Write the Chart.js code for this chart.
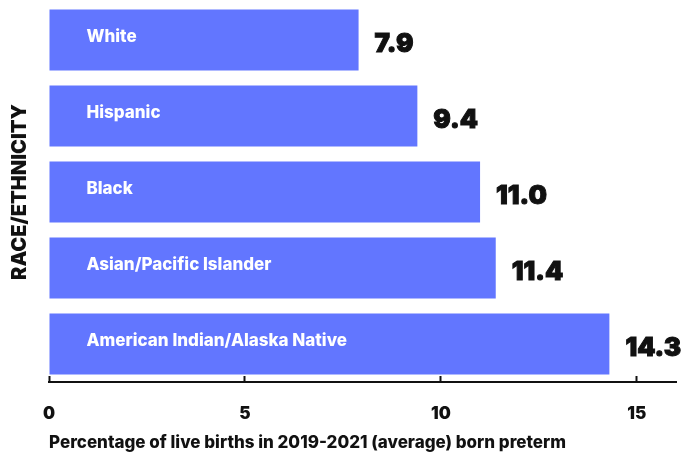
<!DOCTYPE html>
<html>
<head>
<meta charset="utf-8">
<script src="https://cdn.jsdelivr.net/npm/chart.js@4"></script>
<style>
  html, body { margin: 0; padding: 0; background: #fff; }
  #wrap { width: 681px; height: 453px; }
</style>
</head>
<body>
<div id="wrap"><canvas id="chart"></canvas></div>
<script>
// Data
const categories = ['White', 'Hispanic', 'Black', 'Asian/Pacific Islander', 'American Indian/Alaska Native'];
const values = [7.9, 9.4, 11.0, 11.4, 14.3];
const xTicks = [0, 5, 10, 15];

const barColor = '#6276FF';

// Draw the category name inside each bar and the value after it
const barLabels = {
    id: 'barLabels',
    afterDatasetsDraw(chart) {
        const ctx = chart.ctx;
        const meta = chart.getDatasetMeta(0);
        ctx.save();
        meta.data.forEach((bar, i) => {
            ctx.textBaseline = 'middle';
            ctx.textAlign = 'left';
            ctx.fillStyle = '#fff';
            ctx.font = '800 17px Inter, sans-serif';
            ctx.fillText(categories[i], bar.base + 37, bar.y - 3);
            ctx.fillStyle = '#111';
            ctx.strokeStyle = '#111';
            ctx.lineWidth = 1;
            ctx.font = '900 26px Inter, sans-serif';
            ctx.fillText(values[i].toFixed(1), bar.x + 16, bar.y + 4);
            ctx.strokeText(values[i].toFixed(1), bar.x + 16, bar.y + 4);
        });
        ctx.restore();
    }
};

new Chart(document.getElementById('chart'), {
    type: 'bar',
    data: {
        labels: categories,
        datasets: [{
            data: values,
            backgroundColor: barColor,
            borderWidth: 0,
            categoryPercentage: 0.8,
            barPercentage: 1
        }]
    },
    options: {
        indexAxis: 'y',
        responsive: true,
        maintainAspectRatio: false,
        animation: false,
        layout: { padding: { top: 2, right: 5, bottom: 0, left: 0 } },
        plugins: {
            legend: { display: false },
            tooltip: { enabled: false }
        },
        scales: {
            x: {
                min: 0,
                max: 16,
                afterBuildTicks: (scale) => { scale.ticks = xTicks.map(v => ({ value: v })); },
                afterFit: (scale) => { scale.height = 71; },
                grid: {
                    drawOnChartArea: false,
                    drawTicks: true,
                    tickLength: -6,
                    tickWidth: 2,
                    tickColor: '#111'
                },
                border: { display: true, color: '#111', width: 2 },
                ticks: {
                    color: '#111',
                    padding: 28,
                    font: { family: 'Inter', size: 17, weight: '900' }
                },
                title: {
                    display: true,
                    text: 'Percentage of live births in 2019-2021 (average) born preterm',
                    align: 'start',
                    color: '#111',
                    padding: { top: 0, bottom: 0 },
                    font: { family: 'Inter', size: 17, weight: '800' }
                }
            },
            y: {
                grid: { display: false },
                border: { display: false },
                ticks: { display: false },
                afterFit: (scale) => { scale.width = 49; },
                title: {
                    display: true,
                    text: 'RACE/ETHNICITY',
                    color: '#111',
                    padding: { top: 10, bottom: 0 },
                    font: { family: 'Inter', size: 20, weight: '900', lineHeight: 1 }
                }
            }
        }
    },
    plugins: [barLabels]
});
</script>
</body>
</html>
